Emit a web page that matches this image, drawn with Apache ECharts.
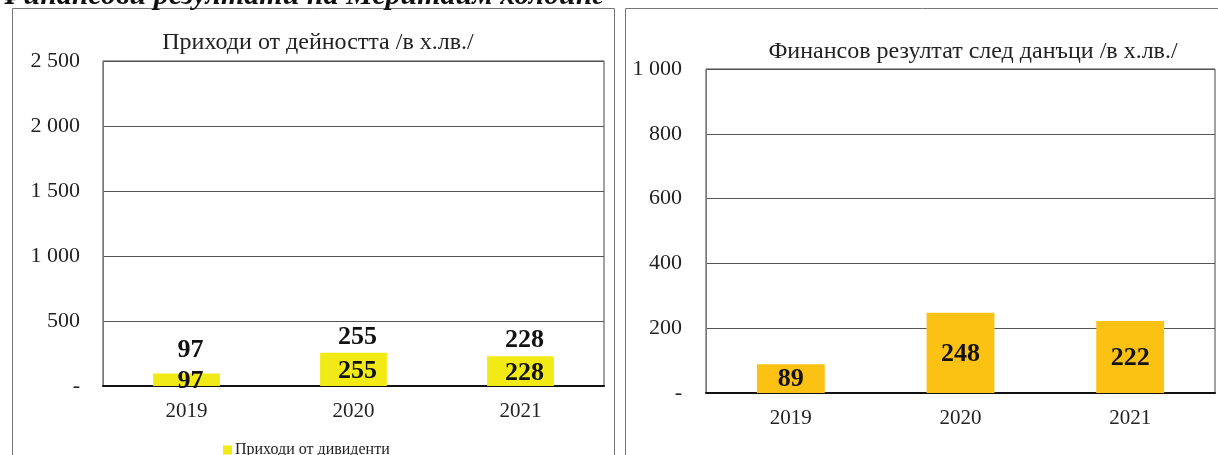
<!DOCTYPE html>
<html>
<head>
<meta charset="utf-8">
<script src="https://cdn.jsdelivr.net/npm/echarts@6/dist/echarts.min.js"></script>
<style>
  html, body { margin: 0; padding: 0; background: #fff; }
  #chart { width: 1218px; height: 455px; }
</style>
</head>
<body>
<div id="chart"></div>
<script>
// данни
const years = ["2019", "2020", "2021"];
const revenueTotal = [97, 255, 228];      // приходи от дейността (етикет над стълба)
const dividends = [97, 255, 228];         // приходи от дивиденти
const profitAfterTax = [89, 248, 222];    // финансов резултат след данъци
const leftTicks = [0, 500, 1000, 1500, 2000, 2500];
const rightTicks = [0, 200, 400, 600, 800, 1000];

const serif = "'Liberation Serif', 'Times New Roman', serif";

// формат "2 500", нула като "-"
function fmt(v) {
  if (v === 0) return "-";
  return String(v).replace(/\B(?=(\d{3})+(?!\d))/g, " ");
}

const chart = echarts.init(document.getElementById("chart"));

function yAxisOpt(ticks, gridIndex, margin) {
  return {
    type: "value",
    gridIndex: gridIndex,
    min: ticks[0],
    max: ticks[ticks.length - 1],
    interval: ticks[1] - ticks[0],
    axisLine: { show: true, lineStyle: { color: "#777", width: 1 } },
    axisTick: { show: false },
    axisLabel: {
      formatter: fmt,
      color: "#222",
      fontFamily: serif,
      fontSize: 22,
      margin: margin
    },
    splitLine: { lineStyle: { color: "#555", width: 1 } }
  };
}

function xAxisOpt(gridIndex) {
  return {
    type: "category",
    gridIndex: gridIndex,
    data: years,
    axisLine: { show: true, lineStyle: { color: "#111", width: 2 } },
    axisTick: { show: false },
    axisLabel: {
      color: "#222",
      fontFamily: serif,
      fontSize: 21,
      margin: 15
    }
  };
}

const boldLabel = {
  color: "#111",
  fontFamily: serif,
  fontWeight: "bold",
  fontSize: 26
};

// етикетите над стълбовете; първият е малко по-високо, както в оригинала
const totalData = revenueTotal.map(function (v, i) {
  return i === 0 ? { value: v, label: { distance: 10 } } : v;
});

const option = {
  animation: false,
  title: [
    {
      text: "Приходи от дейността /в х.лв./",
      left: 313,
      top: 26,
      textAlign: "center",
      textStyle: { fontFamily: serif, fontWeight: "normal", fontSize: 24, color: "#222" }
    },
    {
      text: "Финансов резултат след данъци /в х.лв./",
      left: 968,
      top: 35,
      textAlign: "center",
      textStyle: { fontFamily: serif, fontWeight: "normal", fontSize: 24, color: "#222" }
    }
  ],
  legend: {
    data: ["Приходи от дивиденти"],
    left: 218,
    top: 437,
    itemWidth: 9,
    itemHeight: 9,
    itemGap: 4,
    icon: "rect",
    textStyle: { fontFamily: serif, fontSize: 16, color: "#222", padding: [0, 0, 0, -2] }
  },
  grid: [
    { left: 103, right: 614, top: 61, height: 325, show: true, borderColor: "#444", borderWidth: 1 },
    { left: 706, right: 3, top: 69, height: 324, show: true, borderColor: "#444", borderWidth: 1 }
  ],
  xAxis: [xAxisOpt(0), xAxisOpt(1)],
  yAxis: [yAxisOpt(leftTicks, 0, 23), yAxisOpt(rightTicks, 1, 24)],
  series: [
    {
      name: "Приходи от дивиденти",
      type: "bar",
      xAxisIndex: 0,
      yAxisIndex: 0,
      data: dividends,
      barWidth: "40%",
      itemStyle: { color: "#F2EA14" },
      label: Object.assign({ show: true, position: "inside", offset: [4, 2] }, boldLabel)
    },
    {
      name: "Приходи от дейността",
      type: "bar",
      xAxisIndex: 0,
      yAxisIndex: 0,
      data: totalData,
      barWidth: "40%",
      barGap: "-100%",
      itemStyle: { color: "rgba(0,0,0,0)" },
      label: Object.assign({ show: true, position: "top", distance: 3, offset: [4, 0] }, boldLabel)
    },
    {
      name: "Финансов резултат",
      type: "bar",
      xAxisIndex: 1,
      yAxisIndex: 1,
      data: profitAfterTax,
      barWidth: "40%",
      itemStyle: { color: "#FBC214" },
      label: Object.assign({ show: true, position: "inside", offset: [0, 1] }, boldLabel)
    }
  ],
  graphic: [
    {
      type: "rect",
      shape: { x: 12.5, y: 8.5, width: 602, height: 460 },
      style: { fill: "none", stroke: "#777", lineWidth: 1 },
      silent: true
    },
    {
      type: "rect",
      shape: { x: 625.5, y: 8.5, width: 600, height: 460 },
      style: { fill: "none", stroke: "#777", lineWidth: 1 },
      silent: true
    },
    {
      type: "text",
      left: -2,
      top: -19,
      style: {
        text: "Финансови резултати на Меритайм холдинг",
        font: "italic bold 30px 'Liberation Serif', serif",
        fill: "#111"
      },
      silent: true
    }
  ]
};

chart.setOption(option);
</script>
</body>
</html>
